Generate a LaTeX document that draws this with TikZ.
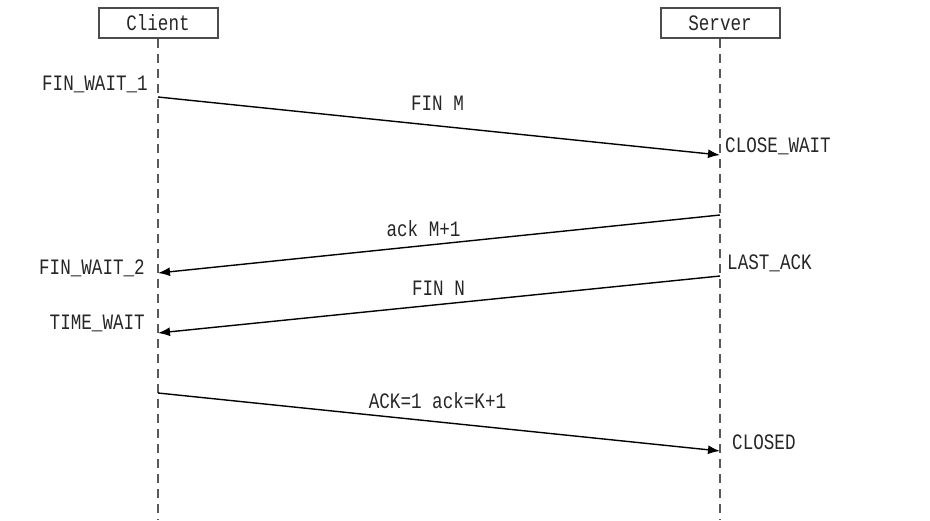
\documentclass[tikz,border=0pt]{standalone}
\usepackage{fontspec}
\newfontfamily\seqfont[FakeStretch=0.8]{Liberation Mono}
\usetikzlibrary{positioning,arrows.meta}

\begin{document}
\begin{tikzpicture}[x=1pt,y=-1pt,
    every node/.style={font=\seqfont\fontsize{22}{24}\selectfont, text=black!85},
    actor/.style={draw=black!70, line width=2pt, minimum width=119pt, minimum height=30pt, inner sep=0pt},
    state/.style={inner sep=0pt},
    lifeline/.style={draw=black!65, line width=1.8pt, dash pattern=on 9pt off 6pt},
    msg/.style={line width=1.4pt, arrows={-Latex[length=12pt,width=9pt]}}]

    \useasboundingbox (0,0) rectangle (930,520);

    \node[actor] (client) at (158,22.5) {Client};
    \node[actor] (server) at (720,23) {Server};

    \coordinate (cend) at (158,520);
    \coordinate (send) at (720,520);
    \draw[lifeline] (client) -- (cend);
    \draw[lifeline] (server) -- (send);

    % points on the lifelines
    \coordinate (c1) at (158,97);
    \coordinate (s1) at (720,155);
    \coordinate (s2) at (720,215);
    \coordinate (c2) at (158,273);
    \coordinate (s3) at (720,276);
    \coordinate (c3) at (158,333);
    \coordinate (c4) at (158,393);
    \coordinate (s4) at (720,451);

    \draw[msg] (c1) -- node[midway, xshift=-1.5pt, yshift=23pt] (finm) {FIN M} (s1);
    \draw[msg] (s2) -- node[midway, xshift=-15.5pt, yshift=15pt] (ackm) {ack M+1} (c2);
    \draw[msg] (s3) -- node[midway, xshift=-0.5pt, yshift=16.5pt] (finn) {FIN N} (c3);
    \draw[msg] (c4) -- node[midway, xshift=-1.5pt, yshift=21pt] (ackk) {ACK=1 ack=K+1} (s4);

    % states
    \node[state, anchor=east] (fw1) at (148,84) {FIN\_WAIT\_1};
    \node[state, anchor=west] (cw) at (725,146) {CLOSE\_WAIT};
    \node[state, anchor=east] (fw2) at (145,268) {FIN\_WAIT\_2};
    \node[state, anchor=west] (la) at (727,263) {LAST\_ACK};
    \node[state, anchor=east] (tw) at (145,323.5) {TIME\_WAIT};
    \node[state, anchor=west] (cl) at (732,442) {CLOSED};

\end{tikzpicture}
\end{document}
